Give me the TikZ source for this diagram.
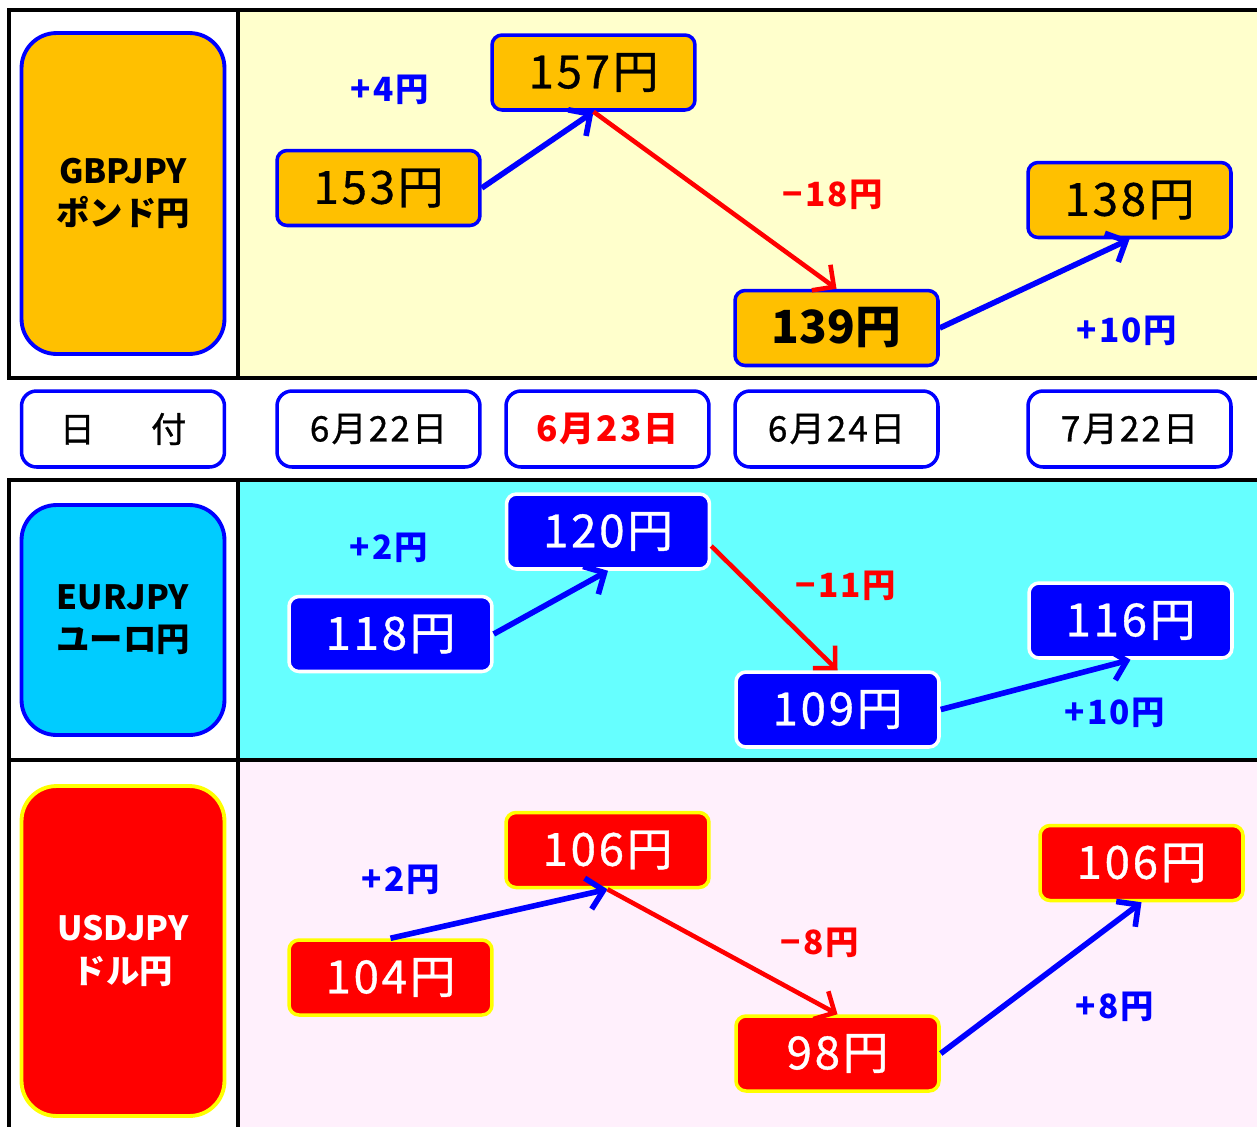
\documentclass[tikz,border=0pt]{standalone}
\usepackage{fontspec}
\usetikzlibrary{arrows.meta}
\newfontfamily\jp{Noto Sans CJK JP}
\newfontfamily\jpw[LetterSpace=6]{Noto Sans CJK JP}
\newfontfamily\jpm[LetterSpace=6,FakeBold=0.8]{Noto Sans CJK JP}
\definecolor{gold}{HTML}{FFC000}
\definecolor{gbpbg}{HTML}{FFFFCC}
\definecolor{eurbg}{HTML}{66FFFF}
\definecolor{eurlab}{HTML}{00CCFF}
\definecolor{usdbg}{HTML}{FFF0FC}
\definecolor{pblue}{HTML}{0000FF}
\definecolor{pred}{HTML}{FF0000}
\definecolor{pyellow}{HTML}{FFFF00}
\begin{document}
\begin{tikzpicture}[x=0.02cm,y=-0.02cm,
  valbox/.style={rectangle, rounded corners=0.2cm, line width=2pt, minimum width=4.06cm, minimum height=1.5cm, inner sep=0pt, font=\jpm\fontsize{26}{30}\selectfont},
  gbpbox/.style={valbox, fill=gold, draw=pblue, text=black},
  eurbox/.style={valbox, fill=pblue, draw=white, text=white},
  usdbox/.style={valbox, fill=pred, draw=pyellow, text=white},
  labbox/.style={rectangle, rounded corners=0.7cm, line width=2.2pt, minimum width=4.06cm, inner sep=0pt, align=center, font=\jp\bfseries\fontsize{19}{24}\selectfont},
  datebox/.style={rectangle, rounded corners=0.3cm, line width=2pt, draw=pblue, fill=white, minimum width=4.06cm, minimum height=1.52cm, inner sep=0pt, font=\jpm\fontsize{20}{24}\selectfont},
  chg/.style={font=\jpw\bfseries\fontsize{19}{22}\selectfont},
  frameline/.style={draw=black, line width=2.2pt},
  uparr/.style={draw=pblue, line width=3.2pt, -{Straight Barb[length=9pt,width=18pt]}},
  downarr/.style={draw=pred, line width=2.6pt, -{Straight Barb[length=9pt,width=18pt]}}
]
\useasboundingbox (0,0) rectangle (1257,1126);
\fill[white] (0,0) rectangle (1257,1126);
% backgrounds
\fill[gbpbg] (238,10) rectangle (1262,378);
\fill[eurbg] (238,480) rectangle (1262,760);
\fill[usdbg] (238,760) rectangle (1262,1130);
% frames
\draw[frameline] (1262,10) -- (9,10) -- (9,378) -- (1262,378);
\draw[frameline] (238,10) -- (238,378);
\draw[frameline] (1262,480) -- (9,480) -- (9,1130);
\draw[frameline] (9,760) -- (1262,760);
\draw[frameline] (238,480) -- (238,1130);

% left labels
\node[labbox, fill=gold, draw=pblue, text=black, minimum height=6.42cm] (lgbp) at (123,193.5) {GBPJPY\\ポンド円};
\node[labbox, fill=eurlab, draw=pblue, text=black, minimum height=4.6cm] (leur) at (123,620) {EURJPY\\ユーロ円};
\node[labbox, fill=pred, draw=pyellow, text=white, minimum height=6.6cm] (lusd) at (123,951) {USDJPY\\ドル円};

% date row
\node[datebox] (d0) at (123,429) {日\hspace{1.6em}付};
\node[datebox] (d1) at (378.5,429) {6月22日};
\node[datebox, text=pred, font=\jpw\bfseries\fontsize{20}{24}\selectfont] (d2) at (607.5,429) {6月23日};
\node[datebox] (d3) at (836.5,429) {6月24日};
\node[datebox] (d4) at (1129.5,429) {7月22日};

% GBP values
\node[gbpbox] (g1) at (378.5,188) {153円};
\node[gbpbox] (g2) at (593.5,72.5) {157円};
\node[gbpbox, font=\jp\bfseries\fontsize{26}{30}\selectfont] (g3) at (836.5,328) {139円};
\node[gbpbox] (g4) at (1129.5,200) {138円};
\draw[uparr] (g1.east) -- (g2.south);
\draw[downarr] (g2.south) -- (g3.north);
\draw[uparr] (g3.east) -- (g4.south);
\node[chg, text=pblue] (cg1) at (390,90) {+4円};
\node[chg, text=pred] (cg2) at (833,195) {−18円};
\node[chg, text=pblue] (cg3) at (1127,331) {+10円};

% EUR values
\node[eurbox] (e1) at (390.5,634) {118円};
\node[eurbox] (e2) at (608,531.5) {120円};
\node[eurbox] (e3) at (837.5,709.5) {109円};
\node[eurbox] (e4) at (1130.5,620.5) {116円};
\draw[uparr] (e1.east) -- (e2.south);
\draw[downarr] (e2.-8) -- (e3.north);
\draw[uparr] (e3.east) -- (e4.south);
\node[chg, text=pblue] (ce1) at (389,548) {+2円};
\node[chg, text=pred] (ce2) at (846,586) {−11円};
\node[chg, text=pblue] (ce3) at (1115,713) {+10円};

% USD values
\node[usdbox] (u1) at (390.5,977.5) {104円};
\node[usdbox] (u2) at (607.5,850) {106円};
\node[usdbox] (u3) at (837.5,1053.5) {98円};
\node[usdbox] (u4) at (1141.5,863) {106円};
\draw[uparr] (u1.north) -- (u2.south);
\draw[downarr] (u2.south) -- (u3.north);
\draw[uparr] (u3.east) -- (u4.south);
\node[chg, text=pblue] (cu1) at (401,880) {+2円};
\node[chg, text=pred] (cu2) at (820,943) {−8円};
\node[chg, text=pblue] (cu3) at (1115,1007) {+8円};
\end{tikzpicture}
\end{document}
